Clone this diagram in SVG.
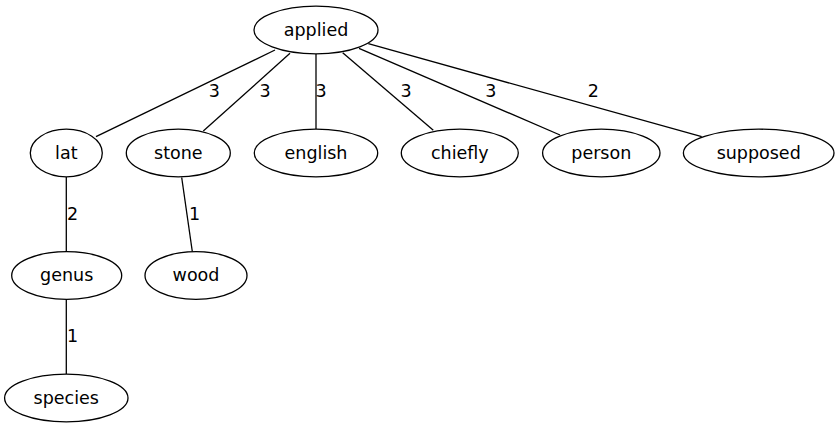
<svg xmlns="http://www.w3.org/2000/svg" width="839" height="429" viewBox="0 0 839 429">
<style>
.n ellipse{fill:none;stroke:#000;stroke-width:1.3}
text{font-family:"DejaVu Sans",sans-serif;font-size:17.5px;fill:#000;text-anchor:middle}
.e line{stroke:#000;stroke-width:1.3}
</style>
<rect width="839" height="429" fill="#fff"/>
<g id="edges" class="e">
<line x1="275" y1="50" x2="96" y2="136.7"/>
<line x1="290" y1="53.3" x2="203.3" y2="131"/>
<line x1="316" y1="54" x2="316" y2="129"/>
<line x1="342.7" y1="52.7" x2="433.3" y2="130.3"/>
<line x1="359" y1="48.3" x2="560" y2="135"/>
<line x1="368.3" y1="43.7" x2="701.7" y2="136.7"/>
<line x1="66.3" y1="177" x2="66.3" y2="251.5"/>
<line x1="181.7" y1="177.5" x2="192.3" y2="251.5"/>
<line x1="66.3" y1="299.5" x2="66.3" y2="374"/>
<text x="214.3" y="96.5">3</text>
<text x="265" y="96.5">3</text>
<text x="321" y="96.5">3</text>
<text x="406" y="96.5">3</text>
<text x="490.7" y="96.5">3</text>
<text x="593.3" y="96.5">2</text>
<text x="72.5" y="219.5">2</text>
<text x="194.5" y="219.5">1</text>
<text x="72.5" y="342">1</text>
</g>
<g id="applied" class="n"><ellipse cx="316" cy="30" rx="62" ry="23.8"/><text x="316" y="35.5">applied</text></g>
<g id="lat" class="n"><ellipse cx="66.3" cy="153" rx="36" ry="23.8"/><text x="66.3" y="158.5">lat</text></g>
<g id="stone" class="n"><ellipse cx="178.3" cy="153" rx="52" ry="23.8"/><text x="178.3" y="158.5">stone</text></g>
<g id="english" class="n"><ellipse cx="316" cy="153" rx="61.7" ry="23.8"/><text x="316" y="158.5">english</text></g>
<g id="chiefly" class="n"><ellipse cx="459.8" cy="153" rx="58.5" ry="23.8"/><text x="459.8" y="158.5">chiefly</text></g>
<g id="person" class="n"><ellipse cx="601.3" cy="153" rx="58.7" ry="23.8"/><text x="601.3" y="158.5">person</text></g>
<g id="supposed" class="n"><ellipse cx="758.7" cy="153" rx="75.3" ry="23.8"/><text x="758.7" y="158.5">supposed</text></g>
<g id="genus" class="n"><ellipse cx="66.7" cy="275.5" rx="55" ry="23.8"/><text x="66.7" y="281">genus</text></g>
<g id="wood" class="n"><ellipse cx="196" cy="275.5" rx="51" ry="23.8"/><text x="196" y="281">wood</text></g>
<g id="species" class="n"><ellipse cx="66.3" cy="398" rx="61.7" ry="23.8"/><text x="66.3" y="403.5">species</text></g>
</svg>
